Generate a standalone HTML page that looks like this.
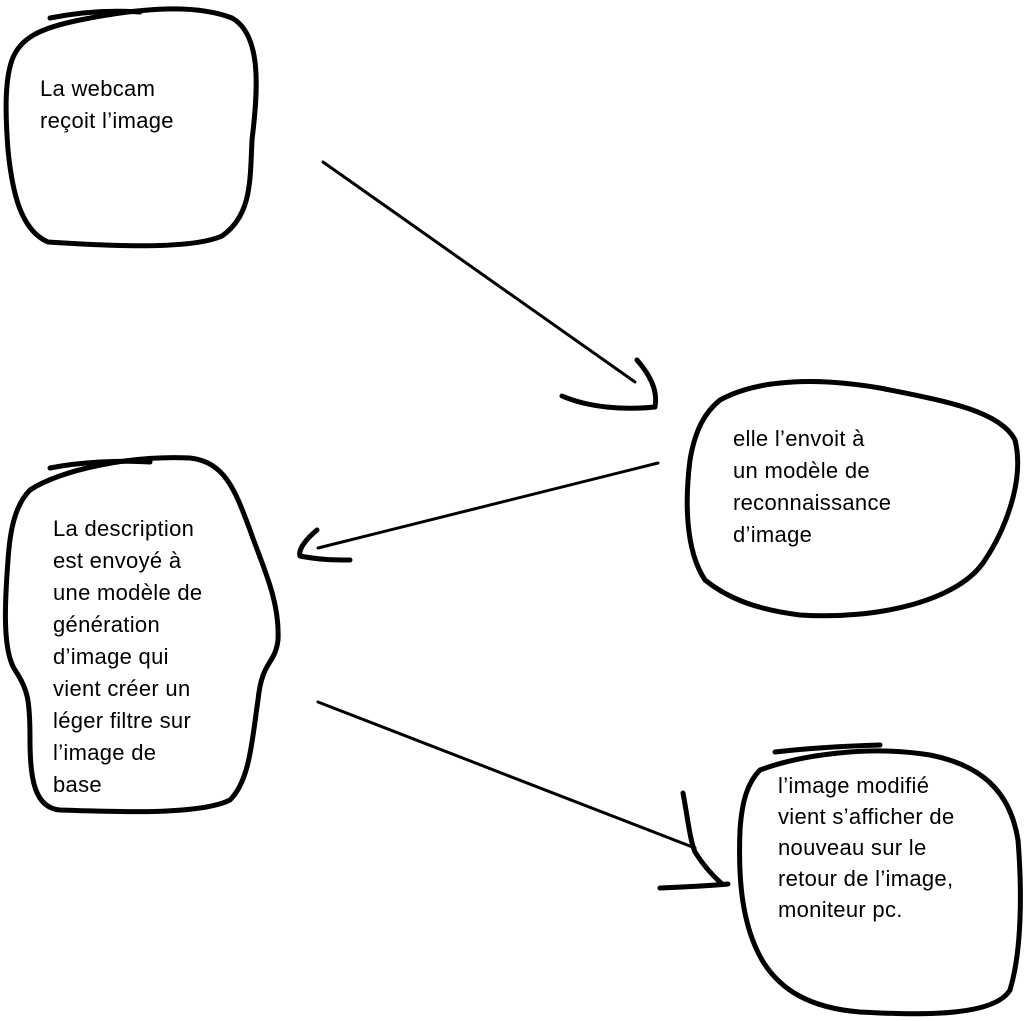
<!DOCTYPE html>
<html><head><meta charset="utf-8"><style>
html,body{margin:0;padding:0;background:#fff;width:1024px;height:1021px;overflow:hidden}
svg{display:block}
text{font-family:"Liberation Sans",sans-serif;font-size:22px;fill:#000;letter-spacing:0.3px}
</style></head><body>
<svg width="1024" height="1021" viewBox="0 0 1024 1021" fill="none" stroke="#000" stroke-width="5" stroke-linecap="round" stroke-linejoin="round">
<!-- shape 1 -->
<path d="M50 18 C80 12 110 10 140 12"/>
<path d="M12 60 C20 38 40 28 80 20 C130 10 190 2 232 18 C262 35 258 90 252 140 C250 180 252 215 222 236 C190 250 110 246 48 242 C20 230 12 190 8 150 C5 110 5 80 12 60 Z"/>
<!-- arrow 1 -->
<path d="M323 162 L635 382" stroke-width="3"/>
<path d="M562 396 C590 408 625 410 655 407 C658 390 650 375 637 360"/>
<!-- shape 2 -->
<path d="M720 400 C760 378 820 378 880 388 C940 400 1000 410 1015 440 C1025 480 1005 530 985 560 C960 600 880 620 800 615 C760 610 730 600 705 580 C685 550 685 500 690 460 C695 430 705 412 720 400 Z"/>
<!-- arrow 2 -->
<path d="M658 463 L318 548" stroke-width="3"/>
<path d="M317 530 C305 540 298 550 300 556 C320 560 335 560 350 560"/>
<!-- shape 3 -->
<path d="M50 468 C80 462 120 460 150 462"/>
<path d="M30 490 C60 470 130 455 190 458 C225 462 235 490 250 530 C262 565 280 600 278 640 C275 665 262 660 258 700 C252 740 250 780 230 800 C200 815 120 812 60 810 C35 808 30 780 30 740 C30 700 28 690 15 670 C2 650 5 600 8 560 C10 530 15 505 30 490 Z"/>
<!-- arrow 3 -->
<path d="M318 702 L695 848" stroke-width="3"/>
<path d="M683 793 C688 820 690 840 695 852 C703 865 712 875 722 884"/>
<path d="M660 888 C685 887 708 886 728 884"/>
<!-- shape 4 -->
<path d="M775 752 C810 748 845 746 880 745"/>
<path d="M760 770 C800 755 870 745 930 755 C980 765 1010 790 1018 840 C1022 890 1022 950 1010 990 C995 1015 930 1016 860 1012 C810 1008 780 990 762 960 C742 925 738 880 740 830 C742 800 748 782 760 770 Z"/>
<g stroke="none">
<text x="40" y="96">La webcam</text>
<text x="40" y="128">reçoit l’image</text>
<text x="733" y="446">elle l’envoit à</text>
<text x="733" y="478">un modèle de</text>
<text x="733" y="510">reconnaissance</text>
<text x="733" y="542">d’image</text>
<text x="53" y="536">La description</text>
<text x="53" y="568">est envoyé à</text>
<text x="53" y="600">une modèle de</text>
<text x="53" y="632">génération</text>
<text x="53" y="664">d’image qui</text>
<text x="53" y="696">vient créer un</text>
<text x="53" y="728">léger filtre sur</text>
<text x="53" y="760">l’image de</text>
<text x="53" y="792">base</text>
<text x="778" y="793">l’image modifié</text>
<text x="778" y="824">vient s’afficher de</text>
<text x="778" y="855">nouveau sur le</text>
<text x="778" y="886">retour de l’image,</text>
<text x="778" y="917">moniteur pc.</text>
</g>
</svg>
</body></html>
